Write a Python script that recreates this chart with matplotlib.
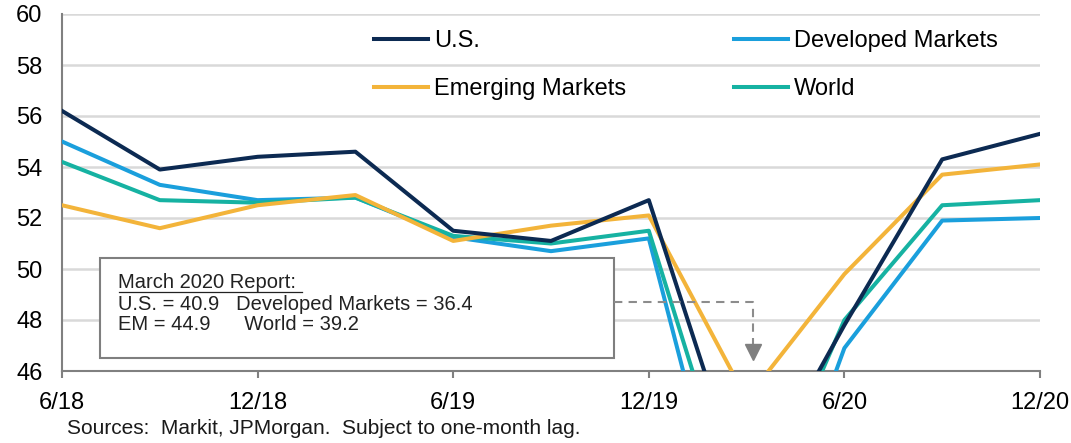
import matplotlib
matplotlib.use("Agg")
import matplotlib.pyplot as plt
from matplotlib.patches import Rectangle

plt.rcParams['font.family'] = ['Liberation Sans', 'DejaVu Sans']

quarters = ['6/18', '9/18', '12/18', '3/19', '6/19', '9/19', '12/19', '3/20', '6/20', '9/20', '12/20']
us = [56.2, 53.9, 54.4, 54.6, 51.5, 51.1, 52.7, 40.9, 47.8, 54.3, 55.3]
developed = [55.0, 53.3, 52.7, 52.8, 51.25, 50.7, 51.2, 36.4, 46.9, 51.9, 52.0]
emerging = [52.5, 51.6, 52.5, 52.9, 51.1, 51.7, 52.1, 44.9, 49.8, 53.7, 54.1]
world = [54.2, 52.7, 52.6, 52.8, 51.3, 51.0, 51.5, 39.2, 48.0, 52.5, 52.7]
yticks = [46, 48, 50, 52, 54, 56, 58, 60]
box_lines = ["March 2020 Report:",
             "U.S. = 40.9   Developed Markets = 36.4",
             "EM = 44.9      World = 39.2"]
source = "Sources:  Markit, JPMorgan.  Subject to one-month lag."

W, H = 1071, 443
fig = plt.figure(figsize=(W / 100, H / 100), dpi=100)
L, R, T, B = 62, 1040, 14, 371
ax = fig.add_axes([L / W, 1 - B / H, (R - L) / W, (B - T) / H])

x = list(range(len(quarters)))
c_us, c_dm, c_em, c_w = '#0c2a52', '#1a9fdc', '#f3b43a', '#16b2a2'
lw = 2.9
h_dm, = ax.plot(x, developed, color=c_dm, lw=lw, label='Developed Markets', zorder=3)
h_w, = ax.plot(x, world, color=c_w, lw=lw, label='World', zorder=3)
h_em, = ax.plot(x, emerging, color=c_em, lw=lw, label='Emerging Markets', zorder=3)
h_us, = ax.plot(x, us, color=c_us, lw=lw, label='U.S.', zorder=4)

ax.set_xlim(0, len(quarters) - 1)
ax.set_ylim(46, 60)
ax.set_yticks(yticks)
ax.set_yticklabels([str(v) for v in yticks])
ax.set_xticks(x[::2])
ax.set_xticklabels(quarters[::2])
ax.yaxis.grid(True, color='#d9d9d9', lw=1.8, zorder=0)
ax.set_axisbelow(True)
for s in ['top', 'right']:
    ax.spines[s].set_visible(False)
for s in ['left', 'bottom']:
    ax.spines[s].set_color('#808080')
    ax.spines[s].set_linewidth(1.5)
ax.tick_params(axis='y', length=0, pad=14, labelsize=17)
ax.tick_params(axis='x', length=5, width=1.5, color='#808080', direction='out', pad=10, labelsize=17)

leg = fig.legend(handles=[h_us, h_em, h_dm, h_w], ncol=2, frameon=False,
                 loc='upper left', bbox_to_anchor=(374 / W, 1 - 30 / H),
                 fontsize=17, handlelength=2.3, handletextpad=0.25,
                 columnspacing=4.55, labelspacing=1.12, borderpad=0, borderaxespad=0)

# annotation box (axes fraction coords)
def fx(px):
    return (px - L) / (R - L)

def fy(py):
    return 1 - (py - T) / (B - T)

rect = Rectangle((fx(100), fy(358)), fx(614) - fx(100), fy(258) - fy(358),
                 transform=ax.transAxes, facecolor='white', edgecolor='#7f7f7f',
                 lw=1.5, zorder=5, clip_on=False)
ax.add_patch(rect)
for i, t in enumerate(box_lines):
    ax.text(fx(118), fy(283 + 21 * i), t, transform=ax.transAxes, fontsize=14.5,
            va='center', ha='left', color='#222222', zorder=6)
# underline for title
ax.plot([fx(119), fx(302)], [fy(291.5), fy(291.5)], transform=ax.transAxes,
        color='#222222', lw=0.9, zorder=6, clip_on=False)

# dashed arrow
ax.plot([fx(614), fx(753), fx(753)], [fy(302), fy(302), fy(344)],
        transform=ax.transAxes, color='#8c8c8c', lw=1.5, ls=(0, (4, 3)), zorder=5)
ax.plot([fx(753)], [fy(352)], transform=ax.transAxes, marker='v', markersize=11,
        color='#7f7f7f', zorder=5, clip_on=False)

fig.text(67 / W, 1 - 429 / H, source, fontsize=15, va='center', ha='left', color='#1a1a1a')

fig.savefig('out.png', dpi=100)
